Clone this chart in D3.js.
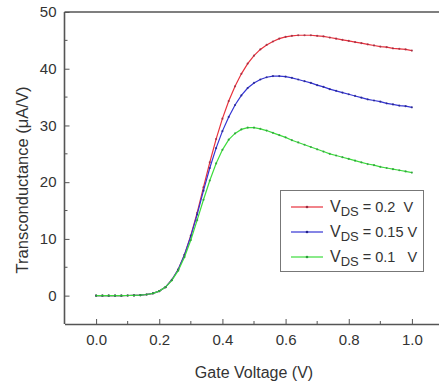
<!DOCTYPE html>
<html>
<head>
<meta charset="utf-8">
<script src="https://cdn.jsdelivr.net/npm/d3@7"></script>
<style>
  html, body { margin: 0; padding: 0; background: #fff; }
  svg { display: block; }
  text { font-family: "Liberation Sans", Arial, sans-serif; fill: #333; }
</style>
</head>
<body>
<svg id="chart" width="439" height="389"></svg>
<script>
// Gate voltage (V), step 0.02
const gateVoltage = d3.range(0, 51).map(i => +(i * 0.02).toFixed(2));

// Transconductance (uA/V)
const gmVds020 = [0,0,0,0,0,0.02,0.04,0.08,0.2,0.4,0.8,1.5,2.8,4.6,7.2,10.6,14.6,19.1,23.5,27.6,31.2,34.3,36.9,39.1,40.9,42.3,43.4,44.2,44.8,45.3,45.6,45.8,45.9,45.9,45.9,45.8,45.7,45.5,45.3,45.1,44.9,44.7,44.5,44.3,44.1,43.9,43.8,43.6,43.5,43.4,43.2];
const gmVds015 = [0,0,0,0,0,0.02,0.04,0.08,0.2,0.4,0.8,1.5,2.8,4.6,7.2,10.5,14.3,18.5,22.5,26.0,29.0,31.5,33.6,35.3,36.6,37.5,38.1,38.5,38.7,38.7,38.6,38.4,38.1,37.8,37.5,37.1,36.8,36.4,36.1,35.8,35.5,35.2,34.9,34.6,34.4,34.2,33.9,33.7,33.5,33.4,33.2];
const gmVds010 = [0,0,0,0,0,0.02,0.04,0.08,0.2,0.4,0.8,1.5,2.7,4.4,6.8,9.8,13.3,16.9,20.3,23.3,25.7,27.5,28.6,29.3,29.6,29.6,29.4,29.1,28.7,28.3,27.9,27.4,27.0,26.6,26.2,25.8,25.4,25.0,24.7,24.4,24.1,23.8,23.5,23.2,23.0,22.7,22.5,22.3,22.1,21.9,21.7];

const seriesNames = ["0.2  V", "0.15 V", "0.1   V"];
const seriesValues = [gmVds020, gmVds015, gmVds010];
const seriesColors = ["#e8313c", "#3434d4", "#3ddc3d"];
const markerColors = ["#9a2a40", "#23238a", "#2a9a3a"];

const xTicks = [0, 0.2, 0.4, 0.6, 0.8, 1.0];
const xMinor = [0.1, 0.3, 0.5, 0.7, 0.9];
const yTicks = [0, 10, 20, 30, 40, 50];
const yMinor = [5, 15, 25, 35, 45];

const svg = d3.select("#chart");
const x = d3.scaleLinear().domain([-0.1, 1.1]).range([64.5, 443.5]);
const y = d3.scaleLinear().domain([-5, 50]).range([324, 12]);

// frame (left, top, bottom; right cut off)
const axisColor = "#555";
svg.append("line").attr("x1", x(-0.1)).attr("x2", x(-0.1)).attr("y1", y(50)).attr("y2", y(-5))
  .attr("stroke", axisColor).attr("stroke-width", 1.6);
svg.append("line").attr("x1", x(-0.1)).attr("x2", 439).attr("y1", y(50)).attr("y2", y(50))
  .attr("stroke", axisColor).attr("stroke-width", 1.6);

// x axis
const xAxis = svg.append("g").attr("transform", `translate(0,${y(-5)})`)
  .call(d3.axisBottom(x).tickValues(xTicks).tickFormat(d3.format(".1f")).tickSizeInner(-5).tickSizeOuter(0).tickPadding(8));
xAxis.select(".domain").attr("stroke", axisColor).attr("stroke-width", 1.6);
xAxis.selectAll(".tick line").attr("stroke", axisColor);
xAxis.selectAll("text").attr("font-size", 15).attr("dy", "0.85em").style("fill", "#333");
svg.append("g").selectAll("line").data(xMinor).join("line")
  .attr("x1", d => x(d)).attr("x2", d => x(d)).attr("y1", y(-5)).attr("y2", y(-5) - 3)
  .attr("stroke", axisColor);

// y axis
const yAxis = svg.append("g").attr("transform", `translate(${x(-0.1)},0)`)
  .call(d3.axisLeft(y).tickValues(yTicks).tickSizeInner(-5).tickSizeOuter(0).tickPadding(8));
yAxis.select(".domain").remove();
yAxis.selectAll(".tick line").attr("stroke", axisColor);
yAxis.selectAll("text").attr("font-size", 15).style("fill", "#333");
svg.append("g").selectAll("line").data(yMinor).join("line")
  .attr("x1", x(-0.1)).attr("x2", x(-0.1) + 3).attr("y1", d => y(d)).attr("y2", d => y(d))
  .attr("stroke", axisColor);

// axis titles
svg.append("text").attr("x", (x(-0.1) + x(1.1)) / 2).attr("y", 378).attr("text-anchor", "middle")
  .attr("font-size", 16).text("Gate Voltage (V)");
svg.append("text").attr("transform", `translate(28,${(y(50) + y(-5)) / 2 + 12}) rotate(-90)`)
  .attr("text-anchor", "middle").attr("font-size", 16.5).text("Transconductance (μA/V)");

// series
const line = d3.line().x((d, i) => x(gateVoltage[i])).y(d => y(d));
seriesValues.forEach((vals, k) => {
  svg.append("path").datum(vals).attr("d", line).attr("fill", "none")
    .attr("stroke", seriesColors[k]).attr("stroke-width", 1.2);
  svg.append("g").selectAll("circle").data(vals).join("circle")
    .attr("cx", (d, i) => x(gateVoltage[i])).attr("cy", d => y(d)).attr("r", 1.1)
    .attr("fill", markerColors[k]).attr("opacity", 0.8);
});

// legend
const lg = svg.append("g");
lg.append("rect").attr("x", 280.5).attr("y", 190.5).attr("width", 143).attr("height", 81)
  .attr("fill", "#fff").attr("stroke", "#777").attr("stroke-width", 1);
seriesNames.forEach((name, k) => {
  const yy = 207 + k * 25;
  lg.append("line").attr("x1", 291).attr("x2", 323).attr("y1", yy).attr("y2", yy)
    .attr("stroke", seriesColors[k]).attr("stroke-width", 1.2);
  lg.append("circle").attr("cx", 307).attr("cy", yy).attr("r", 1.3).attr("fill", markerColors[k]);
  const t = lg.append("text").attr("x", 330).attr("y", yy + 5).attr("font-size", 16);
  t.append("tspan").text("V");
  t.append("tspan").attr("font-size", 13).attr("dy", 4).text("DS");
  t.append("tspan").attr("dy", -4).attr("font-size", 14.5).style("white-space", "pre").text(" = " + name);
});
</script>
</body>
</html>
